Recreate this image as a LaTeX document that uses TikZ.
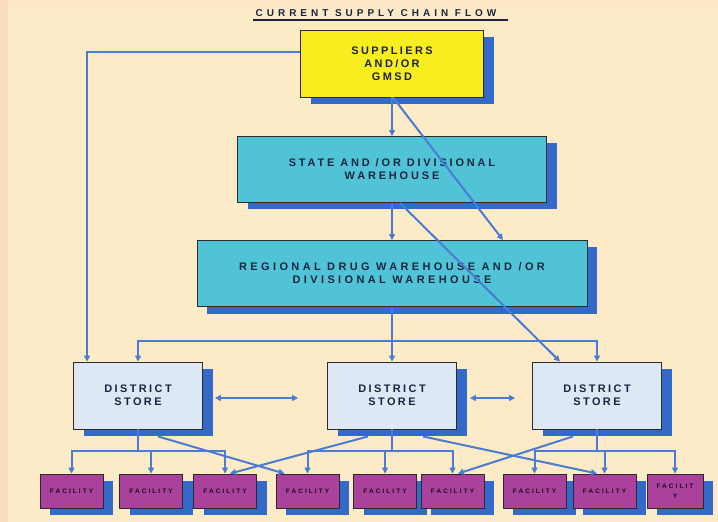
\documentclass[tikz,border=0pt]{standalone}
\usepackage{fontspec}
\usepackage{xcolor}
\usepackage{tikz}
\newfontfamily\boxfont[LetterSpace=22]{Liberation Sans}
\newfontfamily\stateboxfont[LetterSpace=26]{Liberation Sans}
\newfontfamily\regboxfont[LetterSpace=31]{Liberation Sans}
\newfontfamily\titlefont[LetterSpace=40]{Liberation Sans}
\newfontfamily\facfont[LetterSpace=32]{Liberation Sans}
\definecolor{paper}{HTML}{FDEBC8}
\definecolor{paperedge}{HTML}{F9DCBE}
\definecolor{supyellow}{HTML}{F8ED1E}
\definecolor{whcyan}{HTML}{50C4D6}
\definecolor{storeblue}{HTML}{DEE7F4}
\definecolor{facpurple}{HTML}{AA419B}
\definecolor{boxshadow}{HTML}{3369C8}
\definecolor{linkblue}{HTML}{4A7CD4}
\definecolor{boxline}{HTML}{2B2B2B}
\definecolor{boxtext}{HTML}{1C2340}
\definecolor{factext}{HTML}{1A0A20}
\tikzset{chartbox/.style={draw=boxline,line width=0.9bp,inner sep=0pt,align=center,text=boxtext,
           font=\boxfont\bfseries\fontsize{11}{13}\selectfont,
           general shadow={fill=boxshadow,shadow xshift=10bp,shadow yshift=-7bp}},
         supbox/.style={chartbox,fill=supyellow,minimum width=183bp,minimum height=67bp},
         whbox/.style={chartbox,fill=whcyan,minimum height=66bp},
         storebox/.style={chartbox,fill=storeblue,minimum width=129bp,minimum height=67bp},
         facbox/.style={chartbox,fill=facpurple,minimum width=63bp,minimum height=34bp,text=factext,
           font=\facfont\bfseries\fontsize{6.5}{10}\selectfont},
         link/.style={draw=linkblue,line width=2bp},
         flow/.style={link,-{Triangle[length=6bp,width=6bp]}},
         twoway/.style={link,{Triangle[length=6bp,width=6bp]}-{Triangle[length=6bp,width=6bp]}}}
\usetikzlibrary{arrows.meta}
\usetikzlibrary{shadows}

\begin{document}
\begin{tikzpicture}[x=1bp,y=-1bp]
\useasboundingbox (0,0) rectangle (718,522);
\fill[paper] (0,0) rectangle (718,522);
\fill[paperedge] (0,0) rectangle (8,522);
\fill[paperedge!35!paper] (8,0) rectangle (718,7);

\node[text=boxtext,inner sep=0pt,font=\titlefont\bfseries\fontsize{10}{11}\selectfont] (title) at (376,13) {CURRENT SUPPLY CHAIN FLOW};
\draw[boxtext,line width=1.2bp] (253,20) -- (508,20);

\node[supbox] (sup) at (392,63.5) {SUPPLIERS\\AND/OR\\GMSD};
\node[whbox,minimum width=309bp,font=\stateboxfont\bfseries\fontsize{11}{13}\selectfont] (state) at (392,169.5) {STATE AND /OR DIVISIONAL\\WAREHOUSE};
\node[whbox,minimum width=390bp,font=\regboxfont\bfseries\fontsize{11}{13}\selectfont] (reg) at (392,273.5) {REGIONAL DRUG WAREHOUSE AND /OR\\DIVISIONAL WAREHOUSE};

\foreach \n/\x in {d1/138,d2/392,d3/597}
  \node[storebox] (\n) at (\x,395.5) {DISTRICT\\STORE};

\foreach \n/\x in {f1/71.5,f2/151,f3/225,f4/307.5,f5/385,f6/452.5,f7/534.5,f8/604.5}
  \node[facbox] (\n) at (\x,491) {FACILITY};
\node[facbox,minimum width=56bp] (f9) at (675,491) {FACILIT\\Y};

\draw[flow] (sup.south) -- (state.north);
\draw[flow] ([xshift=1bp]sup.south) -- ([xshift=111bp]reg.north);
\draw[flow] (state.south) -- (reg.north);
\draw[flow] ([xshift=8bp]state.south) -- ([xshift=-37bp]d3.north);
\draw[flow] ([yshift=11.5bp]sup.west) -| ([xshift=-51bp]d1.north);

\draw[link] (reg.south) -- ++(0,34) coordinate (rbus);
\foreach \n in {d1,d2,d3}
  \draw[flow] (rbus) -| (\n.north);

\draw[twoway] ([shift={(12bp,-2.5bp)}]d1.east) -- ([shift={(-29bp,-2.5bp)}]d2.west);
\draw[twoway] ([shift={(13bp,-2.5bp)}]d2.east) -- ([shift={(-17bp,-2.5bp)}]d3.west);

\foreach \d/\fa/\fb/\fc in {d1/f1/f2/f3,d2/f4/f5/f6,d3/f7/f8/f9}
{
\draw[link] (\d.south) -- ++(0,22) coordinate (b\d);
\foreach \f in {\fa,\fb,\fc}
  \draw[flow] (b\d) -| (\f.north);
}

\draw[flow] ([shift={(20bp,-7bp)}]d1.south) -- ([xshift=-23bp]f4.north);
\draw[flow] ([shift={(-24bp,-7bp)}]d2.south) -- ([xshift=5bp]f3.north);
\draw[flow] ([shift={(31bp,-7bp)}]d2.south) -- ([xshift=-7.5bp]f8.north);
\draw[flow] ([shift={(-24bp,-7bp)}]d3.south) -- ([xshift=5.5bp]f6.north);
\end{tikzpicture}
\end{document}
